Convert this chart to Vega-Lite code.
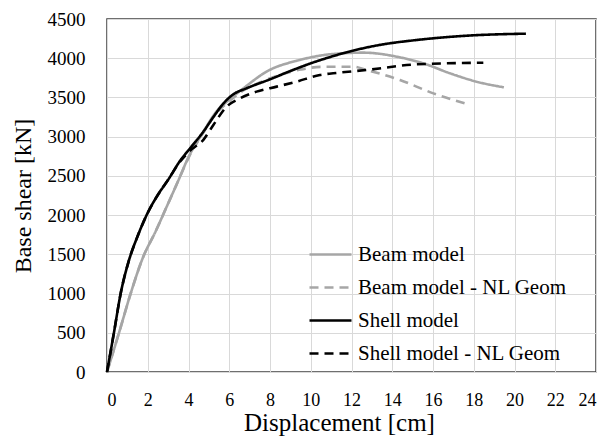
{
  "$schema": "https://vega.github.io/schema/vega-lite/v6.json",
  "width": 489,
  "height": 353,
  "autosize": "none",
  "padding": {"left": 107, "top": 19, "right": 14, "bottom": 67},
  "background": "white",
  "config": {
    "font": "Liberation Serif",
    "view": {"stroke": "#404040", "strokeWidth": 1.5}
  },
  "data": {"values": [
    {"s":"Beam model","x":0,"y":0},{"s":"Beam model","x":0.59,"y":500},{"s":"Beam model","x":1.16,"y":1000},{"s":"Beam model","x":1.75,"y":1450},{"s":"Beam model","x":2.4,"y":1800},{"s":"Beam model","x":2.9,"y":2090},{"s":"Beam model","x":3.5,"y":2440},{"s":"Beam model","x":4.0,"y":2740},{"s":"Beam model","x":4.7,"y":3050},{"s":"Beam model","x":5.4,"y":3330},{"s":"Beam model","x":6.04,"y":3480},{"s":"Beam model","x":6.69,"y":3615},{"s":"Beam model","x":7.83,"y":3829},{"s":"Beam model","x":9.47,"y":3978},{"s":"Beam model","x":11.1,"y":4054},{"s":"Beam model","x":12.58,"y":4071},{"s":"Beam model","x":14.38,"y":4011},{"s":"Beam model","x":15.52,"y":3935},{"s":"Beam model","x":16.83,"y":3808},{"s":"Beam model","x":18.14,"y":3701},{"s":"Beam model","x":19.48,"y":3629},
    {"s":"Beam model - NL Geom","x":0,"y":0},{"s":"Beam model - NL Geom","x":0.59,"y":500},{"s":"Beam model - NL Geom","x":1.16,"y":1000},{"s":"Beam model - NL Geom","x":1.75,"y":1450},{"s":"Beam model - NL Geom","x":2.4,"y":1800},{"s":"Beam model - NL Geom","x":2.9,"y":2090},{"s":"Beam model - NL Geom","x":3.5,"y":2440},{"s":"Beam model - NL Geom","x":4.0,"y":2730},{"s":"Beam model - NL Geom","x":4.7,"y":3040},{"s":"Beam model - NL Geom","x":5.4,"y":3310},{"s":"Beam model - NL Geom","x":6.04,"y":3460},{"s":"Beam model - NL Geom","x":6.69,"y":3590},{"s":"Beam model - NL Geom","x":7.5,"y":3690},{"s":"Beam model - NL Geom","x":8.5,"y":3790},{"s":"Beam model - NL Geom","x":9.5,"y":3855},{"s":"Beam model - NL Geom","x":10.5,"y":3890},{"s":"Beam model - NL Geom","x":12.09,"y":3892},{"s":"Beam model - NL Geom","x":12.74,"y":3850},{"s":"Beam model - NL Geom","x":14.38,"y":3722},{"s":"Beam model - NL Geom","x":16.02,"y":3552},{"s":"Beam model - NL Geom","x":17.57,"y":3425},
    {"s":"Shell model","x":0,"y":0},{"s":"Shell model","x":0.34,"y":500},{"s":"Shell model","x":0.67,"y":1000},{"s":"Shell model","x":1.08,"y":1425},{"s":"Shell model","x":1.5,"y":1730},{"s":"Shell model","x":2.0,"y":2030},{"s":"Shell model","x":2.5,"y":2260},{"s":"Shell model","x":3.0,"y":2450},{"s":"Shell model","x":3.58,"y":2690},{"s":"Shell model","x":4.07,"y":2850},{"s":"Shell model","x":4.73,"y":3064},{"s":"Shell model","x":5.22,"y":3250},{"s":"Shell model","x":5.72,"y":3425},{"s":"Shell model","x":6.2,"y":3540},{"s":"Shell model","x":6.85,"y":3617},{"s":"Shell model","x":8.0,"y":3731},{"s":"Shell model","x":9.0,"y":3837},{"s":"Shell model","x":10.0,"y":3935},{"s":"Shell model","x":11.0,"y":4019},{"s":"Shell model","x":12.0,"y":4092},{"s":"Shell model","x":13.4,"y":4170},{"s":"Shell model","x":15.19,"y":4232},{"s":"Shell model","x":17.65,"y":4287},{"s":"Shell model","x":20.56,"y":4313},
    {"s":"Shell model - NL Geom","x":0,"y":0},{"s":"Shell model - NL Geom","x":0.34,"y":500},{"s":"Shell model - NL Geom","x":0.67,"y":1000},{"s":"Shell model - NL Geom","x":1.08,"y":1425},{"s":"Shell model - NL Geom","x":1.5,"y":1730},{"s":"Shell model - NL Geom","x":2.0,"y":2030},{"s":"Shell model - NL Geom","x":2.5,"y":2260},{"s":"Shell model - NL Geom","x":3.0,"y":2450},{"s":"Shell model - NL Geom","x":3.58,"y":2680},{"s":"Shell model - NL Geom","x":4.07,"y":2820},{"s":"Shell model - NL Geom","x":4.73,"y":2960},{"s":"Shell model - NL Geom","x":5.22,"y":3149},{"s":"Shell model - NL Geom","x":5.87,"y":3382},{"s":"Shell model - NL Geom","x":6.53,"y":3489},{"s":"Shell model - NL Geom","x":7.34,"y":3574},{"s":"Shell model - NL Geom","x":8.33,"y":3638},{"s":"Shell model - NL Geom","x":9.31,"y":3702},{"s":"Shell model - NL Geom","x":10.45,"y":3787},{"s":"Shell model - NL Geom","x":11.1,"y":3808},{"s":"Shell model - NL Geom","x":12.74,"y":3850},{"s":"Shell model - NL Geom","x":15.19,"y":3922},{"s":"Shell model - NL Geom","x":18.47,"y":3943}
  ]},
  "mark": {"type": "line", "strokeWidth": 2.6, "interpolate": "monotone"},
  "encoding": {
    "x": {"field": "x", "type": "quantitative", "scale": {"domain": [0, 24], "nice": false},
      "axis": {"values": [0,2,4,6,8,10,12,14,16,18,20,22,24], "format": "d", "title": "Displacement [cm]",
        "grid": true, "gridColor": "#d9d9d9", "domain": false, "ticks": false,
        "labelFont": "Liberation Serif", "labelFontSize": 18, "labelColor": "#000", "labelPadding": 19,
        "titleFont": "Liberation Serif", "titleFontSize": 25, "titleFontWeight": "normal", "titleColor": "#000", "titlePadding": 1, "titleX": 232, "titleAlign": "center"}},
    "y": {"field": "y", "type": "quantitative", "scale": {"domain": [0, 4500], "nice": false},
      "axis": {"values": [0,500,1000,1500,2000,2500,3000,3500,4000,4500], "format": "d", "title": "Base shear [kN]",
        "grid": true, "gridColor": "#d9d9d9", "domain": false, "ticks": false,
        "labelFont": "Liberation Serif", "labelFontSize": 19, "labelColor": "#000", "labelPadding": 22,
        "titleFont": "Liberation Serif", "titleFontSize": 24, "titleFontWeight": "normal", "titleColor": "#000", "titlePadding": 12}},
    "color": {"field": "s", "type": "nominal", "scale": {"domain": ["Beam model", "Beam model - NL Geom", "Shell model", "Shell model - NL Geom"], "range": ["#a6a6a6", "#a6a6a6", "#000000", "#000000"]},
      "legend": {"title": null, "orient": "none", "legendX": 201, "legendY": 213, "symbolType": "stroke", "symbolSize": 1764, "symbolStrokeWidth": 2.6, "labelFont": "Liberation Serif", "labelFontSize": 21, "labelColor": "#000", "labelLimit": 400, "rowPadding": -15, "labelOffset": 5}},
    "strokeDash": {"field": "s", "type": "nominal", "scale": {"domain": ["Beam model", "Beam model - NL Geom", "Shell model", "Shell model - NL Geom"], "range": [[1,0],[9,6],[1,0],[9,6]]}}
  }
}
